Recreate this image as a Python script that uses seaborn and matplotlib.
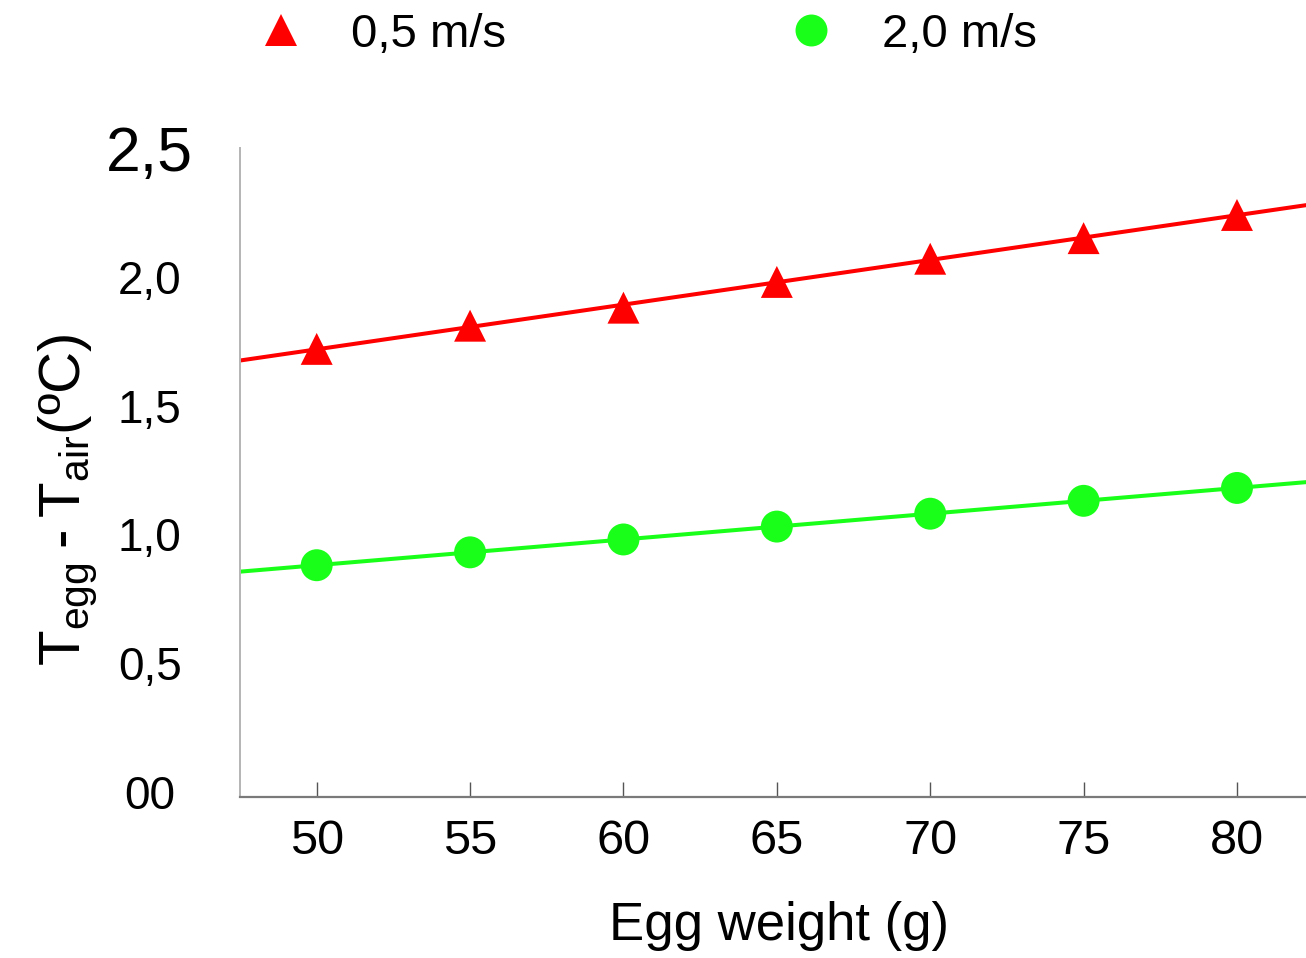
"""
Egg surface-to-air temperature difference vs. egg weight at two air speeds.
"""
import pandas as pd
import matplotlib
matplotlib.use("Agg")
import matplotlib.pyplot as plt
import seaborn as sns

# values
WEIGHT = [50, 55, 60, 65, 70, 75, 80]
DT_05 = [1.72, 1.81, 1.88, 1.98, 2.07, 2.15, 2.24]   # 0,5 m/s
DT_20 = [0.88, 0.93, 0.98, 1.03, 1.08, 1.13, 1.18]   # 2,0 m/s
SPEEDS = ["0,5 m/s", "2,0 m/s"]
COLORS = ["#ff0000", "#1aff1a"]
MARKERS = ["^", "o"]
X_TICKS = [50, 55, 60, 65, 70, 75, 80]
Y_TICKS = [0, 0.5, 1.0, 1.5, 2.0, 2.5]
Y_TICKLABELS = ["00", "0,5", "1,0", "1,5", "2,0", "2,5"]

W, H = 1306, 958


def main():
    sns.set_theme(style="white")
    plt.rcParams["font.family"] = ["Liberation Sans", "DejaVu Sans"]
    plt.rcParams["mathtext.fontset"] = "custom"
    plt.rcParams["mathtext.rm"] = "Liberation Sans"
    plt.rcParams["mathtext.it"] = "Liberation Sans:italic"
    plt.rcParams["text.color"] = "black"
    plt.rcParams["axes.labelcolor"] = "black"
    plt.rcParams["xtick.labelcolor"] = "black"
    plt.rcParams["ytick.labelcolor"] = "black"

    df = pd.DataFrame({
        "weight": WEIGHT * 2,
        "dt": DT_05 + DT_20,
        "speed": [SPEEDS[0]] * len(WEIGHT) + [SPEEDS[1]] * len(WEIGHT),
    })

    fig = plt.figure(figsize=(W / 100, H / 100), dpi=100)
    ax = fig.add_axes([240 / W, (H - 797) / H, 1066 / W, (797 - 148) / H])
    ax.set_xlim(47.5, 82.25)
    ax.set_ylim(-0.02, 2.5)

    # fitted lines across the full x range
    for speed, color in zip(SPEEDS, COLORS):
        sub = df[df["speed"] == speed]
        sns.regplot(data=sub, x="weight", y="dt", ax=ax, scatter=False,
                    ci=None, truncate=False, color=color,
                    line_kws={"linewidth": 2.9})

    sns.scatterplot(data=df, x="weight", y="dt", hue="speed", style="speed",
                    palette=dict(zip(SPEEDS, COLORS)),
                    markers=dict(zip(SPEEDS, MARKERS)),
                    s=23 ** 2, linewidth=0, ax=ax, zorder=3)
    ax.set_xlim(47.5, 82.25)
    ax.set_ylim(-0.02, 2.5)

    sns.move_legend(ax, "center left", bbox_to_anchor=(257 / W, (H - 35) / H),
                    bbox_transform=fig.transFigure, ncol=2, title=None,
                    frameon=False, fontsize=34, handlelength=1.0,
                    handletextpad=1.0, columnspacing=5.95, borderpad=0,
                    borderaxespad=0)
    for txt in ax.get_legend().get_texts():
        txt.set_color("black")

    # axes cosmetics
    sns.despine(ax=ax)
    ax.spines["left"].set_color("#b4b4b4")
    ax.spines["left"].set_linewidth(1.4)
    ax.spines["bottom"].set_color("#7a7a7a")
    ax.spines["bottom"].set_linewidth(1.6)

    ax.set_xticks(X_TICKS)
    ax.set_xticklabels([str(v) for v in X_TICKS])
    ax.tick_params(axis="x", direction="in", length=11, width=1,
                   color="#555555", labelsize=35, pad=16, bottom=True)
    ax.set_yticks(Y_TICKS)
    ax.set_yticklabels(Y_TICKLABELS)
    ax.tick_params(axis="y", length=0, labelsize=33, pad=65)
    for lab in ax.get_yticklabels():
        lab.set_horizontalalignment("center")
    ax.get_yticklabels()[-1].set_fontsize(45)

    ax.set_xlabel("Egg weight (g)", fontsize=38)
    ax.xaxis.label.set_verticalalignment("baseline")
    ax.xaxis.set_label_coords((779 - 240) / 1066, (797 - 940) / 649)

    ax.set_ylabel("$\\mathregular{T_{egg}}$\u2009-\u2009$\\mathregular{T_{air}}$(ºC)",
                  fontsize=42)
    ax.yaxis.label.set_verticalalignment("baseline")
    ax.yaxis.set_label_coords((80 - 240) / 1066, (797 - 500) / 649)

    fig.savefig("out.png", dpi=100)
    plt.close(fig)


if __name__ == "__main__":
    main()
